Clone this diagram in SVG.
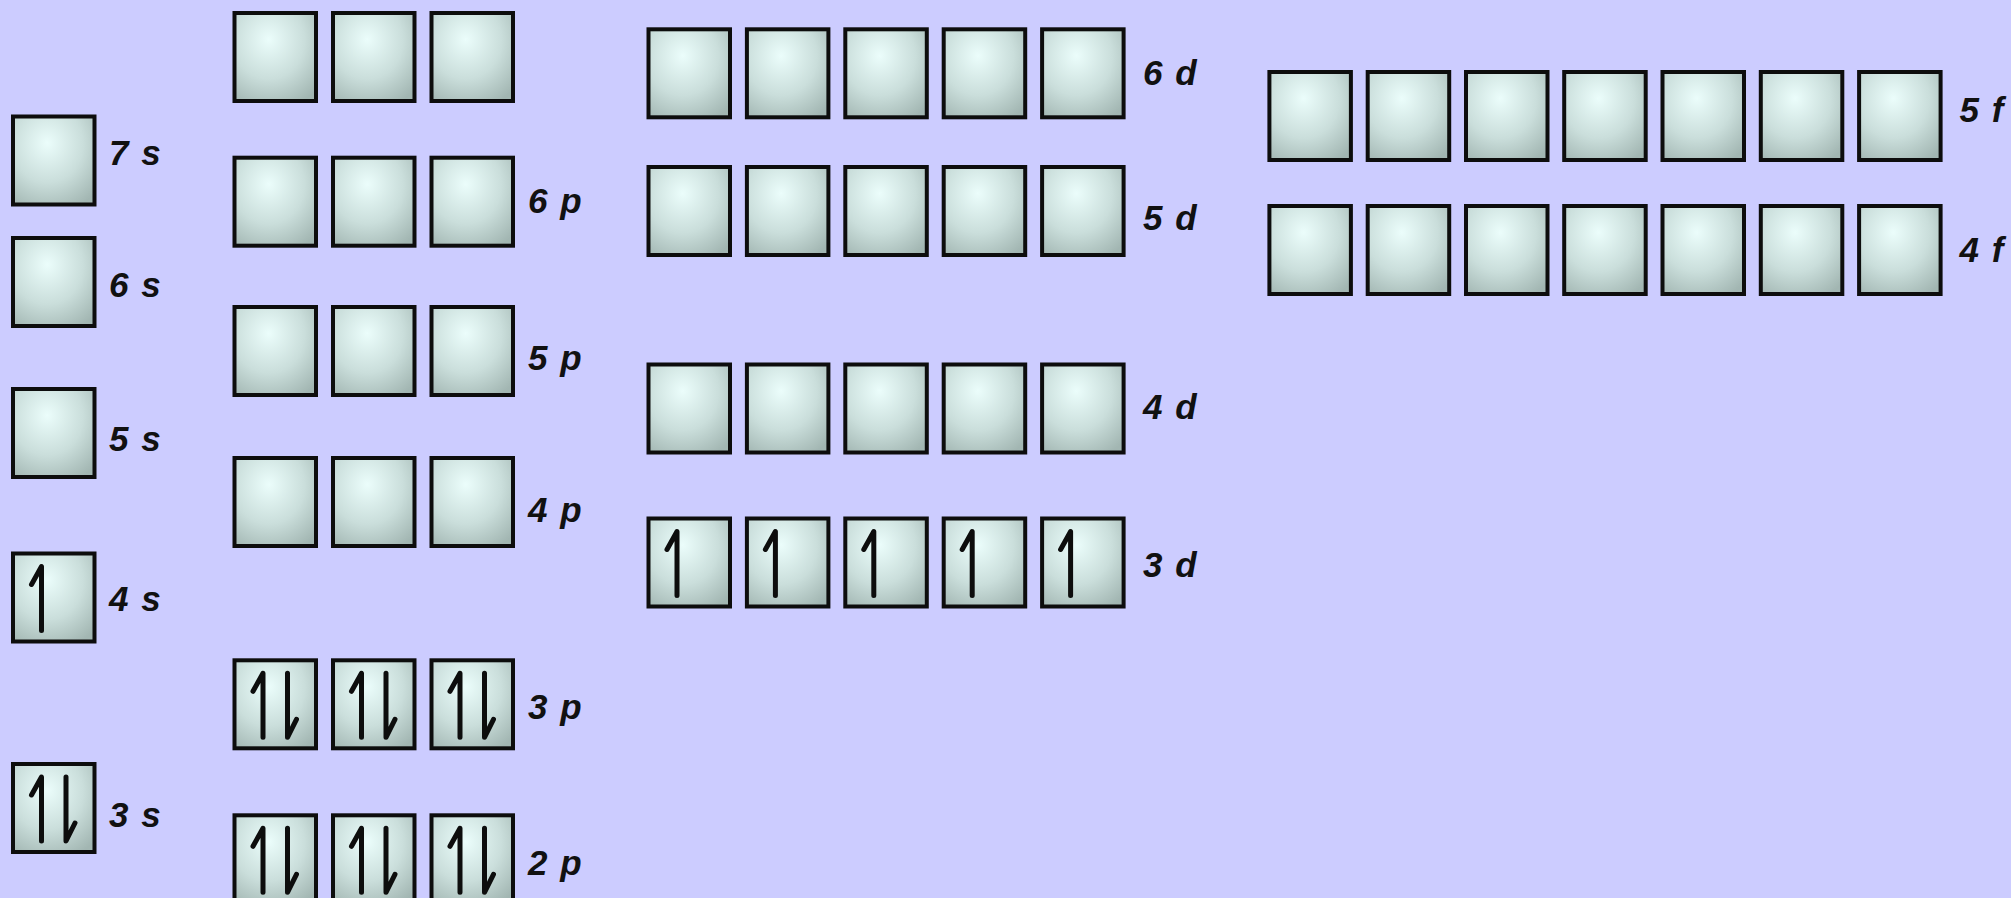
<svg xmlns="http://www.w3.org/2000/svg" xmlns:xlink="http://www.w3.org/1999/xlink" width="2011" height="898" viewBox="0 0 2011 898">
<style>
.lbl{font-family:"Liberation Sans",Arial,sans-serif;font-weight:bold;font-style:italic;font-size:35px;word-spacing:3px;fill:#111}
.e{fill:none;stroke:#0d0d0d;stroke-width:5;stroke-linecap:round;stroke-linejoin:round}
</style>
<defs>
<radialGradient id="g" cx="0.42" cy="0.32" r="0.8" fx="0.42" fy="0.3">
<stop offset="0" stop-color="#ebfdfb"/>
<stop offset="0.55" stop-color="#cadedb"/>
<stop offset="1" stop-color="#a2b6b2"/>
</radialGradient>
<rect id="box" x="2" y="2" width="81.5" height="88" fill="url(#g)" stroke="#0d0d0d" stroke-width="4"/>
<path id="up" class="e" d="M20.5,33 L30.5,15 L30.5,79"/>
<path id="dn" class="e" d="M55,15 L55,79 L64,61"/>
</defs>
<rect width="2011" height="898" fill="#ccccff"/>

<g id="orb-7s"><use href="#box" x="11" y="114.5"/><text class="lbl" x="109" y="165">7 s</text></g>
<g id="orb-6s"><use href="#box" x="11" y="236"/><text class="lbl" x="109" y="297">6 s</text></g>
<g id="orb-5s"><use href="#box" x="11" y="387"/><text class="lbl" x="109" y="451">5 s</text></g>
<g id="orb-4s"><use href="#box" x="11" y="551.5"/><use href="#up" x="11" y="551.5"/><text class="lbl" x="109" y="611">4 s</text></g>
<g id="orb-3s"><use href="#box" x="11" y="762"/><use href="#up" x="11" y="762"/><use href="#dn" x="11" y="762"/><text class="lbl" x="109" y="827">3 s</text></g>

<g id="orb-7p"><use href="#box" x="232.5" y="11"/><use href="#box" x="331" y="11"/><use href="#box" x="429.5" y="11"/></g>
<g id="orb-6p"><use href="#box" x="232.5" y="155.7"/><use href="#box" x="331" y="155.7"/><use href="#box" x="429.5" y="155.7"/><text class="lbl" x="528" y="213.3">6 p</text></g>
<g id="orb-5p"><use href="#box" x="232.5" y="305"/><use href="#box" x="331" y="305"/><use href="#box" x="429.5" y="305"/><text class="lbl" x="528" y="370">5 p</text></g>
<g id="orb-4p"><use href="#box" x="232.5" y="456"/><use href="#box" x="331" y="456"/><use href="#box" x="429.5" y="456"/><text class="lbl" x="528" y="521.7">4 p</text></g>
<g id="orb-3p">
<use href="#box" x="232.5" y="658.3"/><use href="#up" x="232.5" y="658.3"/><use href="#dn" x="232.5" y="658.3"/>
<use href="#box" x="331" y="658.3"/><use href="#up" x="331" y="658.3"/><use href="#dn" x="331" y="658.3"/>
<use href="#box" x="429.5" y="658.3"/><use href="#up" x="429.5" y="658.3"/><use href="#dn" x="429.5" y="658.3"/>
<text class="lbl" x="528" y="719.3">3 p</text></g>
<g id="orb-2p">
<use href="#box" x="232.5" y="813.3"/><use href="#up" x="232.5" y="813.3"/><use href="#dn" x="232.5" y="813.3"/>
<use href="#box" x="331" y="813.3"/><use href="#up" x="331" y="813.3"/><use href="#dn" x="331" y="813.3"/>
<use href="#box" x="429.5" y="813.3"/><use href="#up" x="429.5" y="813.3"/><use href="#dn" x="429.5" y="813.3"/>
<text class="lbl" x="528" y="875">2 p</text></g>

<g id="orb-6d"><use href="#box" x="646.5" y="27.3"/><use href="#box" x="744.9" y="27.3"/><use href="#box" x="843.3" y="27.3"/><use href="#box" x="941.7" y="27.3"/><use href="#box" x="1040.1" y="27.3"/><text class="lbl" x="1143" y="85">6 d</text></g>
<g id="orb-5d"><use href="#box" x="646.5" y="165"/><use href="#box" x="744.9" y="165"/><use href="#box" x="843.3" y="165"/><use href="#box" x="941.7" y="165"/><use href="#box" x="1040.1" y="165"/><text class="lbl" x="1143" y="230">5 d</text></g>
<g id="orb-4d"><use href="#box" x="646.5" y="362.5"/><use href="#box" x="744.9" y="362.5"/><use href="#box" x="843.3" y="362.5"/><use href="#box" x="941.7" y="362.5"/><use href="#box" x="1040.1" y="362.5"/><text class="lbl" x="1143" y="419.3">4 d</text></g>
<g id="orb-3d">
<use href="#box" x="646.5" y="516.5"/><use href="#up" x="646.5" y="516.5"/>
<use href="#box" x="744.9" y="516.5"/><use href="#up" x="744.9" y="516.5"/>
<use href="#box" x="843.3" y="516.5"/><use href="#up" x="843.3" y="516.5"/>
<use href="#box" x="941.7" y="516.5"/><use href="#up" x="941.7" y="516.5"/>
<use href="#box" x="1040.1" y="516.5"/><use href="#up" x="1040.1" y="516.5"/>
<text class="lbl" x="1143" y="576.7">3 d</text></g>

<g id="orb-5f"><use href="#box" x="1267.4" y="70"/><use href="#box" x="1365.7" y="70"/><use href="#box" x="1464" y="70"/><use href="#box" x="1562.2" y="70"/><use href="#box" x="1660.5" y="70"/><use href="#box" x="1758.8" y="70"/><use href="#box" x="1857.1" y="70"/><text class="lbl" x="1959.6" y="121.7">5 f</text></g>
<g id="orb-4f"><use href="#box" x="1267.4" y="204"/><use href="#box" x="1365.7" y="204"/><use href="#box" x="1464" y="204"/><use href="#box" x="1562.2" y="204"/><use href="#box" x="1660.5" y="204"/><use href="#box" x="1758.8" y="204"/><use href="#box" x="1857.1" y="204"/><text class="lbl" x="1959.6" y="261.7">4 f</text></g>
<g id="connectors"/>
</svg>
